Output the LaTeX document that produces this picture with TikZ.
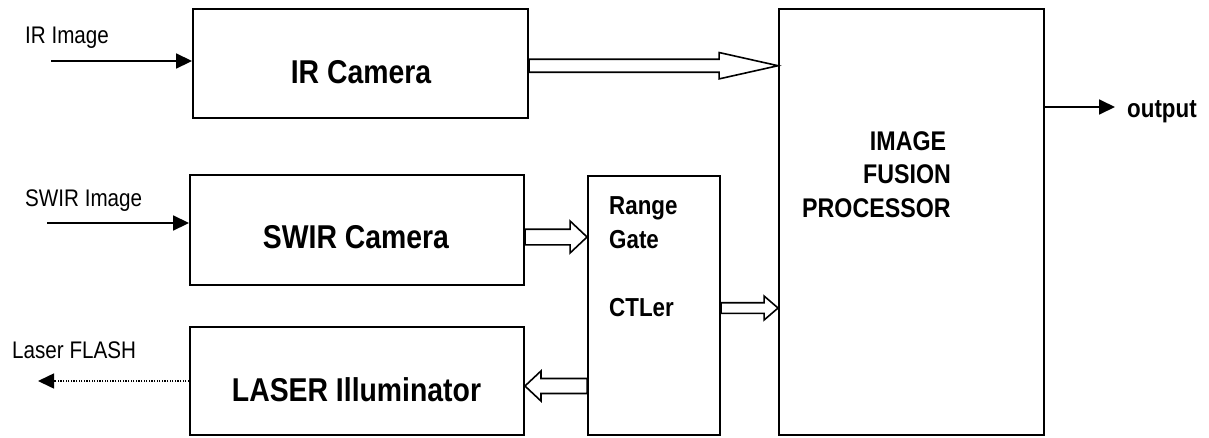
\documentclass[tikz,border=0pt]{standalone}
\usepackage{fontspec}
\setmainfont{Liberation Sans}[FakeStretch=0.86]
\usetikzlibrary{arrows.meta,calc}
\tikzset{
  box/.style={draw, line width=1.9pt, inner sep=0pt, fill=white},
  bigtxt/.style={font=\fontsize{33}{36}\selectfont\bfseries, inner sep=0pt, anchor=base},
  midtxt/.style={font=\fontsize{27}{30}\selectfont\bfseries, inner sep=0pt, anchor=base},
  rgtxt/.style={font=\fontsize{26}{29}\selectfont\bfseries, inner sep=0pt, anchor=base west},
  smalltxt/.style={font=\fontsize{24}{27}\selectfont, inner sep=0pt, anchor=base west},
  thinarrow/.style={line width=1.8pt, -{Triangle[length=16pt,width=15pt]}},
  dotarrow/.style={line width=1.5pt, dash pattern=on 1.3pt off 1.3pt, -{Triangle[length=16pt,width=15pt]}},
  barrow/.style={draw, fill=white, line width=1.6pt, line join=miter}
}
% #1 start, #2 tip, #3 half body, #4 half head, #5 signed offset tip->head base
\newcommand\blockarr[5]{\draw[barrow] let \p1=(#1), \p2=(#2), \p3=($(#2)+(#5,0)$) in
  (\x1,\y2+#3) -- (\x3,\y2+#3) -- (\x3,\y2+#4) -- (\x2,\y2) --
  (\x3,\y2-#4) -- (\x3,\y2-#3) -- (\x1,\y2-#3) -- cycle;}
\begin{document}
\begin{tikzpicture}[x=1pt,y=-1pt]
\useasboundingbox (0,0) rectangle (1209,437);
% boxes
\node[box, minimum width=335pt, minimum height=109pt] (irc) at (360.5,63.5) {};
\node[box, minimum width=334pt, minimum height=110pt] (swc) at (357,230) {};
\node[box, minimum width=334pt, minimum height=108pt] (las) at (357,381) {};
\node[box, minimum width=132pt, minimum height=259pt] (rg) at (654,305.5) {};
\node[box, minimum width=265pt, minimum height=426pt] (proc) at (911.5,222) {};
% box texts
\node[bigtxt] (irct) at (361,83) {IR Camera};
\node[bigtxt] (swct) at (356,248) {SWIR Camera};
\node[bigtxt] (last) at (356.5,401) {LASER Illuminator};
\node[rgtxt] (rg1) at (609,214) {Range};
\node[rgtxt] (rg2) at (609,248) {Gate};
\node[rgtxt] (rg3) at (609,316) {CTLer};
\node[midtxt] (pr1) at (908,150) {IMAGE};
\node[midtxt] (pr2) at (907,183) {FUSION};
\node[midtxt, anchor=base west] (pr3) at (802,217) {PROCESSOR};
% outside labels
\node[smalltxt] (irin) at (25,43) {IR Image};
\node[smalltxt] (swin) at (25,206) {SWIR Image};
\node[smalltxt] (lfl) at (12,358) {Laser FLASH};
\node[font=\fontsize{26}{29}\selectfont\bfseries, inner sep=0pt, anchor=base west] (outt) at (1127,117) {output};
% helper coordinates
\coordinate (irs) at (51,61);
\coordinate (sws) at (47,223);
\coordinate (lfe) at (38,381);
\coordinate (oute) at (1115,107);
\coordinate (y1) at (0,65.7);
\coordinate (y2) at (0,237);
\coordinate (y3) at (0,308);
\coordinate (y4) at (0,386);
% thin arrows
\draw[thinarrow] (irs) -- (irc.west |- irs);
\draw[thinarrow] (sws) -- (swc.west |- sws);
\draw[thinarrow] (proc.east |- oute) -- (oute);
\draw[dotarrow] (las.west |- lfe) -- (lfe);
% block arrows
\blockarr{irc.east}{proc.west |- y1}{6.5pt}{13.2pt}{-59pt}
\blockarr{swc.east}{rg.west |- y2}{7.8pt}{16pt}{-17pt}
\blockarr{rg.east}{proc.west |- y3}{5.3pt}{12pt}{-14pt}
\blockarr{rg.west}{las.east |- y4}{7.5pt}{15pt}{16pt}
\end{tikzpicture}
\end{document}
